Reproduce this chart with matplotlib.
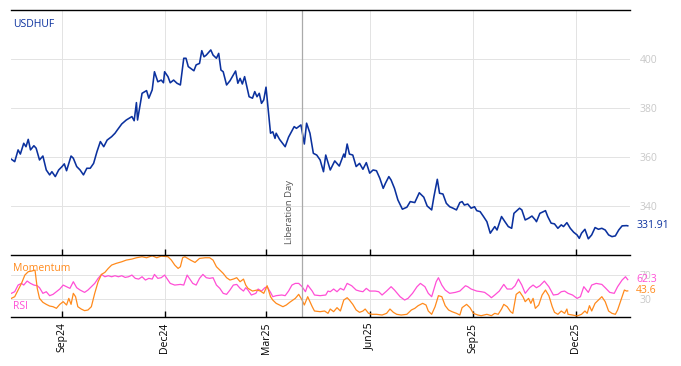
import matplotlib
matplotlib.use("Agg")
import matplotlib.pyplot as plt
import matplotlib.dates as mdates
import pandas as pd

plt.rcParams['font.family'] = ['Open Sans', 'DejaVu Sans']

start = pd.Timestamp("2024-07-18")

# USDHUF close, days counted from start
px_days = [0, 3, 6, 8, 11, 13, 15, 17, 20, 22, 25, 28, 31, 34, 36, 39, 42, 45, 47, 49,
           53, 55, 58, 61, 64, 67, 70, 73, 76, 79, 82, 85, 89, 92, 94, 98, 102, 107, 109, 111,
           112, 116, 120, 122, 125, 127, 130, 133, 135, 136, 139, 141, 144, 147, 150, 153, 155, 157, 162, 164,
           167, 169, 171, 173, 177, 179, 182, 184, 186, 188, 191, 194, 199, 201, 203, 205, 207, 211, 214, 216,
           218, 220, 222, 224, 226, 230, 232, 234, 235, 238, 243, 246, 251, 253, 257, 260, 262, 265, 268, 271,
           274, 277, 279, 283, 287, 291, 295, 296, 298, 300, 303, 306, 309, 312, 315, 318, 321, 324, 327, 330,
           332, 335, 337, 340, 343, 347, 351, 354, 358, 362, 366, 369, 373, 375, 378, 380, 383, 386, 389, 392,
           395, 398, 400, 402, 405, 408, 411, 413, 416, 419, 422, 425, 429, 431, 435, 438, 441, 444, 446, 451,
           453, 456, 459, 462, 465, 466, 469, 474, 476, 479, 482, 485, 488, 490, 493, 496, 499, 502, 504, 506,
           509, 512, 515, 518, 521, 524, 527, 530, 533, 536, 539, 542, 546, 547]
px_vals = [359.1, 358.1, 362.9, 361.2, 365.6, 364.2, 367.2, 362.9, 364.6, 363.6, 358.8, 360.4, 354.7, 352.7, 354.0, 352.0, 354.7, 356.1, 357.2, 354.4,
           360.4, 359.5, 356.1, 354.7, 352.7, 355.4, 355.4, 357.4, 362.2, 366.3, 364.2, 366.9, 368.3, 369.7, 371.0, 373.5, 375.1, 376.5, 374.8, 382.2,
           375.1, 386.0, 387.1, 384.0, 387.4, 394.8, 390.7, 391.4, 390.3, 394.8, 392.8, 390.3, 391.4, 390.1, 389.4, 400.3, 400.3, 396.9, 395.2, 397.6,
           398.2, 403.4, 400.9, 401.6, 403.7, 401.6, 400.3, 402.3, 395.5, 394.8, 389.4, 391.1, 395.1, 390.1, 392.1, 389.8, 392.8, 384.6, 384.0, 386.7,
           384.6, 386.0, 381.9, 383.3, 388.5, 369.7, 370.3, 367.6, 369.7, 367.2, 364.2, 368.1, 372.4, 371.7, 373.1, 365.3, 373.8, 369.7, 361.5, 360.8,
           358.8, 354.0, 360.8, 354.7, 358.4, 356.3, 361.2, 359.9, 365.3, 361.2, 360.8, 356.1, 357.4, 355.0, 357.7, 353.4, 354.7, 354.4, 351.3, 347.2,
           349.3, 352.0, 350.6, 347.2, 342.5, 338.7, 339.5, 341.8, 341.4, 345.4, 343.6, 340.0, 338.4, 343.8, 350.9, 345.2, 344.9, 341.1, 339.7, 339.1,
           338.4, 341.4, 341.8, 340.4, 340.8, 339.1, 339.7, 338.1, 337.7, 335.7, 333.6, 328.9, 331.6, 330.2, 335.7, 333.6, 331.6, 330.9, 337.0, 339.1,
           338.4, 334.3, 335.0, 335.9, 334.3, 333.6, 337.0, 338.1, 335.7, 333.0, 332.7, 330.9, 332.3, 331.6, 333.2, 330.9, 329.3, 328.2, 326.8, 328.9,
           330.5, 326.6, 328.2, 331.2, 330.5, 330.9, 330.2, 328.2, 327.5, 327.8, 330.2, 331.9, 332.0, 331.91]

# Momentum (scaled 0-100)
mom_days = [0, 3, 6, 9, 12, 15, 18, 21, 23, 25, 28, 31, 34, 37, 40, 43, 46, 49, 51, 53,
            55, 57, 59, 62, 65, 68, 71, 74, 77, 80, 83, 86, 89, 93, 98, 102, 107, 111, 116, 120,
            125, 129, 133, 139, 142, 145, 148, 150, 152, 154, 159, 163, 167, 172, 176, 179, 182, 185, 188, 191,
            194, 197, 200, 203, 206, 208, 210, 214, 218, 221, 224, 227, 230, 232, 235, 238, 241, 244, 247, 252,
            255, 258, 260, 263, 267, 269, 274, 278, 281, 283, 286, 289, 292, 295, 298, 300, 303, 306, 309, 312,
            314, 317, 320, 324, 329, 333, 336, 339, 342, 346, 351, 355, 358, 361, 365, 368, 370, 373, 376, 379,
            382, 385, 388, 391, 395, 398, 400, 404, 407, 410, 414, 417, 422, 426, 429, 432, 435, 437, 440, 443,
            445, 448, 451, 454, 456, 459, 461, 463, 465, 468, 471, 474, 477, 480, 482, 485, 488, 491, 493, 494,
            498, 502, 506, 509, 511, 513, 515, 518, 521, 524, 527, 530, 533, 536, 538, 541, 544, 546, 547]
mom_vals = [31.1, 33.9, 45.0, 56.1, 70.0, 75.6, 76.7, 78.3, 47.8, 31.1, 24.5, 21.1, 18.3, 17.2, 14.5, 21.1, 25.6, 20.0, 31.1, 21.1,
            39.5, 33.9, 17.2, 13.3, 10.6, 11.7, 17.2, 39.5, 58.9, 71.1, 74.5, 81.1, 86.7, 89.5, 92.2, 95.0, 96.7, 98.9, 100.6, 98.9,
            102.2, 98.9, 101.7, 100.6, 95.0, 86.7, 81.1, 83.9, 98.9, 100.6, 95.0, 91.1, 97.8, 98.9, 98.9, 95.0, 83.9, 78.3, 72.8, 65.6,
            61.7, 63.3, 65.6, 58.9, 63.3, 53.3, 47.8, 43.3, 45.0, 43.3, 39.5, 52.2, 33.9, 28.3, 22.8, 20.0, 17.2, 20.0, 24.5, 31.1,
            37.8, 28.3, 20.0, 33.9, 17.2, 10.0, 8.9, 10.0, 6.1, 13.3, 8.9, 15.6, 10.0, 28.3, 32.2, 28.3, 21.1, 11.7, 7.8, 10.0,
            13.3, 6.1, 4.5, 4.5, 3.3, 6.1, 13.3, 7.8, 4.5, 3.3, 4.5, 11.7, 14.4, 18.9, 22.8, 20.0, 10.0, 4.5, 17.2, 35.6,
            33.9, 18.9, 11.7, 8.9, 6.1, 3.3, 15.6, 21.1, 15.6, 6.1, 3.3, 2.2, 4.5, 2.2, 6.1, 4.5, 13.3, 21.1, 17.2, 8.9,
            6.1, 37.8, 42.2, 33.9, 25.6, 31.1, 22.8, 31.1, 14.4, 20.0, 36.7, 45.0, 35.6, 17.2, 7.8, 4.5, 10.0, 6.1, 13.3, 4.5,
            3.3, 1.7, 4.5, 10.0, 6.1, 18.9, 10.0, 22.8, 28.3, 33.9, 25.6, 10.0, 6.1, 4.5, 11.7, 28.3, 45.0, 43.3, 43.6]

# RSI
rsi_days = [0, 3, 6, 9, 11, 14, 17, 20, 23, 25, 28, 31, 34, 37, 40, 43, 46, 49, 52, 55,
            58, 61, 65, 68, 71, 74, 77, 80, 83, 86, 89, 92, 95, 98, 101, 104, 107, 110, 113, 116,
            119, 122, 125, 127, 130, 133, 136, 139, 141, 145, 150, 153, 156, 159, 161, 164, 167, 170, 173, 176,
            179, 182, 185, 188, 191, 194, 197, 200, 203, 206, 208, 210, 213, 217, 219, 222, 225, 227, 230, 232,
            235, 240, 243, 246, 249, 252, 255, 258, 261, 263, 267, 269, 274, 279, 281, 283, 286, 289, 292, 295,
            298, 302, 306, 309, 312, 315, 318, 323, 326, 329, 333, 337, 340, 345, 349, 352, 356, 360, 363, 367,
            370, 373, 377, 379, 382, 385, 389, 394, 398, 403, 405, 408, 413, 417, 420, 424, 426, 429, 433, 437,
            440, 444, 447, 450, 453, 456, 460, 463, 466, 469, 473, 477, 481, 485, 488, 491, 494, 498, 502, 505,
            508, 512, 515, 519, 524, 527, 531, 535, 538, 542, 545, 547]
rsi_vals = [39.5, 42.2, 53.3, 56.1, 53.3, 60.0, 56.1, 53.3, 52.2, 48.9, 39.5, 42.2, 35.6, 37.8, 42.2, 46.7, 53.3, 50.6, 47.8, 58.9,
            48.9, 45.0, 41.1, 45.0, 50.6, 56.1, 64.5, 71.1, 67.2, 68.9, 67.2, 68.9, 67.2, 68.9, 66.1, 67.2, 70.0, 64.5, 63.3, 67.2,
            61.7, 64.5, 63.3, 71.1, 64.5, 65.6, 70.0, 61.7, 56.1, 53.3, 54.4, 53.3, 70.0, 61.7, 56.1, 53.3, 64.5, 71.1, 65.6, 64.5,
            65.6, 53.3, 47.8, 39.5, 37.8, 45.0, 53.3, 54.4, 47.8, 43.3, 48.9, 45.0, 36.7, 39.5, 46.7, 43.3, 48.9, 50.6, 41.1, 33.9,
            35.6, 36.7, 35.6, 43.3, 53.3, 56.1, 56.1, 50.6, 42.2, 53.3, 43.3, 36.7, 35.6, 36.7, 43.3, 42.2, 46.7, 42.2, 47.8, 45.0,
            56.1, 52.2, 45.0, 43.3, 42.2, 47.8, 43.3, 43.3, 42.2, 36.7, 43.3, 50.6, 45.0, 33.9, 28.3, 31.1, 39.5, 50.6, 56.1, 50.6,
            39.5, 33.9, 58.9, 65.6, 53.3, 45.0, 39.5, 41.1, 43.3, 52.2, 50.6, 46.7, 43.3, 42.2, 41.1, 35.6, 32.2, 36.7, 43.3, 54.4,
            46.7, 46.7, 52.2, 63.3, 53.3, 39.5, 48.9, 53.3, 48.9, 52.2, 60.0, 50.6, 36.7, 37.8, 42.2, 43.3, 39.5, 36.7, 31.1, 33.9,
            50.6, 41.1, 53.3, 56.1, 54.4, 48.9, 41.1, 39.5, 50.6, 61.7, 67.2, 62.3]

ticks = ["2024-09-01", "2024-12-01", "2025-03-01", "2025-06-01", "2025-09-01", "2025-12-01"]
lib_day = "2025-04-02"

blue = "#0b319e"
pink = "#ff4fd6"
orange = "#ff8a1c"
grid_c = "#e3e3e3"
lab_c = "#c8c8c8"

px_t = start + pd.to_timedelta(px_days, unit="D")
mom_t = start + pd.to_timedelta(mom_days, unit="D")
rsi_t = start + pd.to_timedelta(rsi_days, unit="D")
tick_t = pd.to_datetime(ticks)
lib_t = pd.Timestamp(lib_day)
xmin = start - pd.Timedelta(days=0.3)
xmax = start + pd.Timedelta(days=549)

fig = plt.figure(figsize=(6.81, 3.66), dpi=100)
ax = fig.add_axes([11 / 681, 1 - 255 / 366, 619 / 681, 245 / 366])
ax2 = fig.add_axes([11 / 681, 1 - 317 / 366, 619 / 681, 62 / 366], sharex=ax)

# main panel
ax.plot(px_t, px_vals, color=blue, lw=1.15)
ax.set_ylim(320, 420)
ax.set_yticks([340, 360, 380, 400])
ax.yaxis.tick_right()
ax.tick_params(axis="y", length=0, pad=7, labelsize=7.5, labelcolor=lab_c)
ax.grid(True, color=grid_c, lw=0.7)
ax.axvline(lib_t, color="#aaaaaa", lw=0.9)
ax.text(lib_t - pd.Timedelta(days=11.5), 324.5, "Liberation Day", rotation=90,
        fontsize=6.8, color="#555555", ha="center", va="bottom")
ax.text(0.004, 0.94, "USDHUF", transform=ax.transAxes, color=blue, fontsize=7.5, va="center")
ax.text(1.01, px_vals[-1], "%.2f" % px_vals[-1], transform=ax.get_yaxis_transform(),
        color=blue, fontsize=7.5, va="center")

# lower panel
ax2.plot(rsi_t, rsi_vals, color=pink, lw=0.9)
ax2.plot(mom_t, mom_vals, color=orange, lw=0.9)
ax2.axvline(lib_t, color="#aaaaaa", lw=0.9)
ax2.set_ylim(0, 103.5)
ax2.set_yticks([30, 70])
ax2.yaxis.tick_right()
ax2.tick_params(axis="y", length=0, pad=7, labelsize=7.5, labelcolor=lab_c)
ax2.grid(True, color=grid_c, lw=0.7)
ax2.text(0.004, 0.78, "Momentum", transform=ax2.transAxes, color=orange, fontsize=7.5, va="center")
ax2.text(0.004, 0.17, "RSI", transform=ax2.transAxes, color=pink, fontsize=7.5, va="center")
ax2.text(1.01, rsi_vals[-1], "%.1f" % rsi_vals[-1], transform=ax2.get_yaxis_transform(),
         color=pink, fontsize=7.5, va="center")
ax2.text(1.01, mom_vals[-1], "%.1f" % mom_vals[-1], transform=ax2.get_yaxis_transform(),
         color=orange, fontsize=7.5, va="center")

for a in (ax, ax2):
    a.set_xlim(xmin, xmax)
    a.set_xticks(tick_t)
    a.tick_params(axis="x", direction="in", length=4, width=1, color="black")
    for s in ("left", "right"):
        a.spines[s].set_visible(False)
    a.spines["bottom"].set_linewidth(1)
    a.spines["top"].set_linewidth(1)

ax.spines["bottom"].set_visible(False)
ax.tick_params(axis="x", labelbottom=False)
ax2.xaxis.set_major_formatter(mdates.DateFormatter("%b%y"))
ax2.tick_params(axis="x", labelsize=7.5, labelrotation=90, pad=4)

fig.savefig("out.png", dpi=100)
